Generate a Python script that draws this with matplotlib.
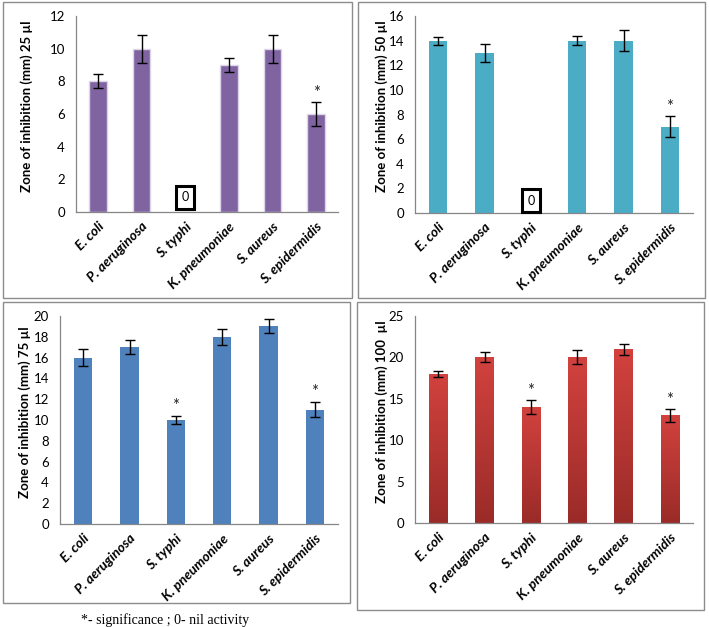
import numpy as np
import matplotlib
matplotlib.use("Agg")
import matplotlib.pyplot as plt
from matplotlib.patches import Rectangle

plt.rcParams['font.family'] = ['Lato', 'DejaVu Sans']

# data
bacteria = ["E. coli", "P. aeruginosa", "S. typhi", "K. pneumoniae", "S. aureus", "S. epidermidis"]
zone_25 = [8, 10, 0, 9, 10, 6]
err_25 = [0.43, 0.85, 0, 0.4, 0.85, 0.72]
zone_50 = [14, 13, 0, 14, 14, 7]
err_50 = [0.32, 0.72, 0, 0.35, 0.85, 0.85]
zone_75 = [16, 17, 10, 18, 19, 11]
err_75 = [0.8, 0.7, 0.4, 0.75, 0.67, 0.75]
zone_100 = [18, 20, 14, 20, 21, 13]
err_100 = [0.4, 0.6, 0.85, 0.85, 0.65, 0.75]
sig_25 = ["S. epidermidis"]
sig_50 = ["S. epidermidis"]
sig_75 = ["S. typhi", "S. epidermidis"]
sig_100 = ["S. typhi", "S. epidermidis"]

fig = plt.figure(figsize=(7.09, 6.27), dpi=100)
W, H = 709, 627


def fx(px):
    return px / W


def fy(py):
    return 1 - py / H


# panel frames
for x0, y0, x1, y1 in [(3, 2, 352, 298), (358, 2, 705, 298), (3, 302, 350, 603), (357, 302, 704, 610)]:
    fig.patches.append(Rectangle((fx(x0), fy(y1)), fx(x1 - x0), (y1 - y0) / H,
                                 transform=fig.transFigure, fill=False,
                                 edgecolor="#8c8c8c", linewidth=1.0))


def panel(box, vals, errs, sig, ymax, step, color, label, label_x, zero_y=None, gradient=None):
    l, t, r, b = box
    ax = fig.add_axes([fx(l), fy(b), fx(r - l), (b - t) / H])
    x = np.arange(len(bacteria))
    bars = ax.bar(x, vals, width=0.4, color=color,
                  edgecolor="#ddd5e8" if color == "#8064A2" else "none",
                  linewidth=1.0, zorder=2)
    if gradient:
        cmap = matplotlib.colors.LinearSegmentedColormap.from_list("g", gradient)
        grad = np.linspace(0, 1, 256).reshape(-1, 1)
        for bar in bars:
            if bar.get_height() <= 0:
                continue
            bx, by = bar.get_x(), bar.get_y()
            bw, bh = bar.get_width(), bar.get_height()
            im = ax.imshow(grad, extent=[bx, bx + bw, by, by + bh], origin="lower",
                           cmap=cmap, aspect="auto", zorder=2)
            im.set_clip_path(bar)
            bar.set_facecolor("none")
    for xi, v, e in zip(x, vals, errs):
        if v > 0:
            ax.errorbar(xi, v, yerr=e, fmt="none", ecolor="black", elinewidth=1.0,
                        capsize=3.5, capthick=1.0, zorder=3)
    for name in sig:
        i = bacteria.index(name)
        ax.annotate("*", (i, vals[i] + errs[i]), xytext=(0, 1), textcoords="offset points",
                    ha="center", va="bottom", fontsize=12, color="#222222")
    if zero_y is not None:
        i = bacteria.index("S. typhi")
        ax.text(i, zero_y, "0", ha="center", va="center", fontsize=9,
                bbox=dict(boxstyle="square,pad=0.45", facecolor="white", edgecolor="black", linewidth=2.2))
    ax.set_xlim(-0.5, len(bacteria) - 0.5)
    ax.set_ylim(0, ymax)
    ax.set_yticks(np.arange(0, ymax + step / 2, step))
    ax.set_xticks(x)
    ax.set_xticklabels(bacteria, rotation=45, ha="right", rotation_mode="anchor",
                       fontweight="bold", fontstyle="italic", fontsize=10)
    ax.tick_params(axis="y", length=0, labelsize=9.5, pad=8)
    ax.tick_params(axis="x", length=0, pad=6)
    for s in ["top", "right"]:
        ax.spines[s].set_visible(False)
    for s in ["left", "bottom"]:
        ax.spines[s].set_color("#868686")
        ax.spines[s].set_linewidth(0.9)
    fig.text(fx(label_x), fy((t + b) / 2 - 8), label, rotation=90, ha="center", va="center",
             fontsize=9.5, fontweight="bold")
    return ax


panel((76, 16, 338, 212), zone_25, err_25, sig_25, 12, 2, "#8064A2",
      "Zone of inhibition (mm) 25 µl", 27, zero_y=0.9)
panel((415, 16, 693, 213), zone_50, err_50, sig_50, 16, 2, "#4BACC6",
      "Zone of inhibition (mm) 50 µl", 382, zero_y=1.0)
panel((60, 316, 338, 524), zone_75, err_75, sig_75, 20, 2, "#4F81BD",
      "Zone of inhibition (mm) 75 µl", 25)
panel((415, 316, 693, 523), zone_100, err_100, sig_100, 25, 5, "#C0504D",
      "Zone of inhibition (mm) 100  µl", 382, gradient=["#9a2b28", "#d2423e"])

fig.text(fx(165), fy(620), "*- significance ; 0- nil activity", ha="center", va="center",
         fontsize=10, family="Liberation Serif")

fig.savefig("out.png", dpi=100)
